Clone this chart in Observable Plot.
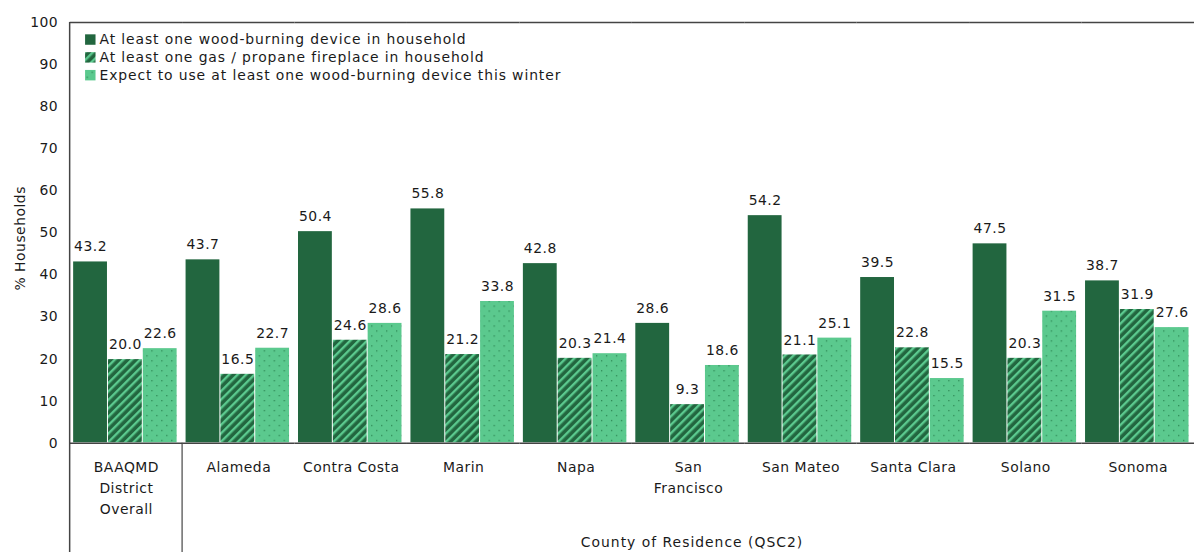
<!DOCTYPE html>
<html>
<head>
<meta charset="utf-8">
<script src="https://cdn.jsdelivr.net/npm/d3@7"></script>
<script src="https://cdn.jsdelivr.net/npm/@observablehq/plot@0.6"></script>
<style>
  html, body { margin: 0; padding: 0; background: #fff; }
  #wrap { width: 1194px; height: 555px; overflow: hidden; position: relative; }
  #wrap svg text { letter-spacing: 0.5px; }
</style>
</head>
<body>
<div id="wrap"></div>
<script>
const groups = ["BAAQMD\nDistrict\nOverall", "Alameda", "Contra Costa", "Marin", "Napa", "San\nFrancisco", "San Mateo", "Santa Clara", "Solano", "Sonoma"];
const series = [
  "At least one wood-burning device in household",
  "At least one gas / propane fireplace in household",
  "Expect to use at least one wood-burning device this winter"
];
const woodBurning = [43.2, 43.7, 50.4, 55.8, 42.8, 28.6, 54.2, 39.5, 47.5, 38.7];
const gasFireplace = [20.0, 16.5, 24.6, 21.2, 20.3, 9.3, 21.1, 22.8, 20.3, 31.9];
const expectUse = [22.6, 22.7, 28.6, 33.8, 21.4, 18.6, 25.1, 15.5, 31.5, 27.6];
const yTicks = [0, 10, 20, 30, 40, 50, 60, 70, 80, 90, 100];
const yLabel = "% Households";
const xTitle = "County of Residence (QSC2)";

const DARK = "#22663f";
const LIGHT = "#5bc98e";
const DOT = "#2f8a57";
const INK = "#1a1a1a";
const AXIS = "#444";
const fills = [DARK, "url(#hatch)", "url(#dots)"];

const valueSets = [woodBurning, gasFireplace, expectUse];
const rows = groups.flatMap((g, i) => valueSets.map((arr, k) => ({group: g, series: series[k], value: arr[i]})));

const chart = Plot.plot({
  width: 1200,
  height: 555,
  marginLeft: 70,
  marginRight: 0,
  marginTop: 22,
  marginBottom: 110,
  style: {fontFamily: "DejaVu Sans", fontSize: "14px", color: INK, background: "white"},
  fx: {domain: groups, paddingInner: 0, paddingOuter: 0, label: null},
  x: {domain: series, paddingInner: 0, paddingOuter: 0.11, align: 0.4, axis: null},
  y: {domain: [0, 100], label: null},
  color: {domain: series, range: fills},
  marks: [
    Plot.barY(rows, {fx: "group", x: "series", y: "value", fill: "series", inset: 0.5}),
    Plot.text(rows, {fx: "group", x: "series", y: "value", text: d => d.value.toFixed(1), dy: -10, lineAnchor: "bottom", fill: INK, fontSize: 14}),
    Plot.ruleY([0], {stroke: AXIS, strokeWidth: 1.5}),
    Plot.ruleY([100], {stroke: AXIS, strokeWidth: 1.5}),
    Plot.axisY({ticks: yTicks, tickSize: 0, tickPadding: 12, label: null, fontSize: 14}),
    Plot.axisFx({anchor: "bottom", tickSize: 0, tickPadding: 14, lineHeight: 1.5, label: null, fontSize: 14})
  ]
});

document.getElementById("wrap").appendChild(chart);

const svg = d3.select(chart);
const defs = svg.insert("defs", ":first-child");
const hatch = defs.append("pattern").attr("id", "hatch").attr("patternUnits", "userSpaceOnUse")
  .attr("width", 6).attr("height", 6).attr("patternTransform", "rotate(45)");
hatch.append("rect").attr("width", 6).attr("height", 6).attr("fill", DARK);
hatch.append("rect").attr("width", 2.4).attr("height", 6).attr("fill", LIGHT);
const dots = defs.append("pattern").attr("id", "dots").attr("patternUnits", "userSpaceOnUse")
  .attr("width", 10).attr("height", 10);
dots.append("rect").attr("width", 10).attr("height", 10).attr("fill", LIGHT);
dots.append("rect").attr("x", 2).attr("y", 2).attr("width", 1.3).attr("height", 1.3).attr("fill", DOT);
dots.append("rect").attr("x", 7).attr("y", 7).attr("width", 1.3).attr("height", 1.3).attr("fill", DOT);

// scales
const fx = chart.scale("fx");
const ys = chart.scale("y");
const fxBand = fx.bandwidth ?? ((fx.range[1] - fx.range[0]) / fx.domain.length);
const fxStart = v => fx.apply ? fx.apply(v) : fx.range[0] + fx.domain.indexOf(v) * fxBand;
const yTop = ys.apply(100), yBottom = ys.apply(0);
const H = 555;

const deco = svg.append("g").attr("text-anchor", "start");
const x0 = fxStart(groups[0]);
const x1 = fxStart(groups[1]);
deco.append("line").attr("x1", x0).attr("x2", x0).attr("y1", yTop).attr("y2", H)
  .attr("stroke", AXIS).attr("stroke-width", 1.5);
deco.append("line").attr("x1", x1).attr("x2", x1).attr("y1", yBottom).attr("y2", H)
  .attr("stroke", AXIS).attr("stroke-width", 1.2);

// axis titles
const countiesMid = (x1 + fxStart(groups[groups.length - 1]) + fxBand) / 2;
deco.append("text").attr("x", countiesMid + 4).attr("y", 550)
  .attr("text-anchor", "middle").attr("fill", INK)
  .style("font", "14px 'DejaVu Sans'").style("letter-spacing", "1px").text(xTitle);
deco.append("text").attr("transform", `translate(25,${(yTop + yBottom) / 2 + 6}) rotate(-90)`)
  .attr("text-anchor", "middle").attr("fill", INK)
  .style("font", "14px 'DejaVu Sans'").text(yLabel);

// legend
const leg = deco.append("g");
series.forEach((s, i) => {
  const cy = 39.5 + i * 17.9;
  leg.append("rect").attr("x", 85.5).attr("y", cy - 5).attr("width", 10.5).attr("height", 10.5).attr("fill", fills[i]);
  leg.append("text").attr("x", 100).attr("y", cy).attr("dy", "0.35em").attr("fill", INK)
    .attr("text-anchor", "start")
    .style("font", "14px 'DejaVu Sans'").style("letter-spacing", "0.9px").text(s);
});
</script>
</body>
</html>
